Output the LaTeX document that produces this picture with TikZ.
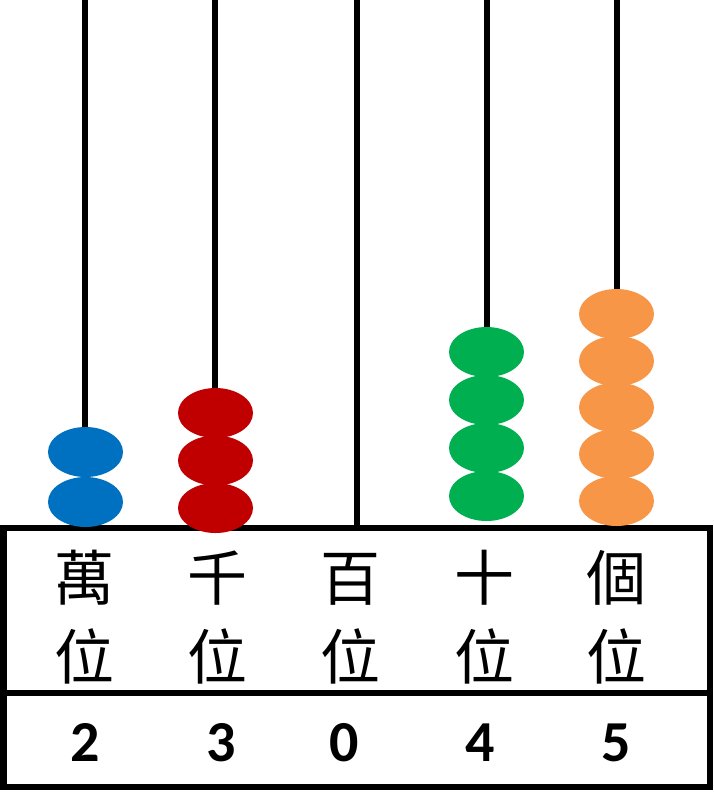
\documentclass[tikz,border=0pt]{standalone}
\usepackage{fontspec}
\usetikzlibrary{shapes.geometric}
\newfontfamily\cjk{Noto Sans CJK TC}
\newfontfamily\digitfont{Carlito}
\definecolor{beadblue}{HTML}{0070C0}
\definecolor{beadred}{HTML}{C00000}
\definecolor{beadgreen}{HTML}{00B050}
\definecolor{beadorange}{HTML}{F79646}
\begin{document}
\begin{tikzpicture}[x=1pt,y=-1pt,
  rod/.style={line width=6pt},
  frame/.style={line width=6.5pt,line join=miter},
  bead/.style={ellipse,minimum width=75pt,minimum height=50pt,inner sep=0pt,draw=none},
  cjklabel/.style={font=\cjk\fontsize{60}{60}\selectfont,anchor=base,inner sep=0pt},
  digit/.style={font=\digitfont\bfseries\fontsize{58}{58}\selectfont,anchor=base,inner sep=0pt}]
\useasboundingbox (0,0) rectangle (714,812);
% rods
\coordinate (r1t) at (85,0);   \coordinate (r1b) at (85,500);
\coordinate (r2t) at (215,0);  \coordinate (r2b) at (215,500);
\coordinate (r3t) at (357,0);  \coordinate (r3b) at (357,528);
\coordinate (r4t) at (487,0);  \coordinate (r4b) at (487,490);
\coordinate (r5t) at (617,0);  \coordinate (r5b) at (617,490);
\draw[rod] (r1t) -- (r1b);
\draw[rod] (r2t) -- (r2b);
\draw[rod] (r3t) -- (r3b);
\draw[rod] (r4t) -- (r4b);
\draw[rod] (r5t) -- (r5b);
% frame
\coordinate (tl) at (3.5,528);
\coordinate (br) at (710,787);
\coordinate (ml) at (3.5,693);
\coordinate (mr) at (710,693);
\draw[frame] (tl) rectangle (br);
\draw[frame] (ml) -- (mr);
% beads
\node[bead,fill=beadblue] (b1a) at (85.5,452) {};
\node[bead,fill=beadblue] (b1b) at (85.5,502) {};
\node[bead,fill=beadred] (b2a) at (215.5,413) {};
\node[bead,fill=beadred] (b2b) at (215.5,460.5) {};
\node[bead,fill=beadred] (b2c) at (215.5,508) {};
\node[bead,fill=beadgreen] (b4a) at (486.5,352) {};
\node[bead,fill=beadgreen] (b4b) at (486.5,400) {};
\node[bead,fill=beadgreen] (b4c) at (486.5,448) {};
\node[bead,fill=beadgreen] (b4d) at (486.5,496) {};
\node[bead,fill=beadorange] (b5a) at (616.5,314) {};
\node[bead,fill=beadorange] (b5b) at (616.5,361) {};
\node[bead,fill=beadorange] (b5c) at (616.5,407.5) {};
\node[bead,fill=beadorange] (b5d) at (616.5,454) {};
\node[bead,fill=beadorange] (b5e) at (616.5,501) {};
% labels
\node[cjklabel] (l1a) at (84,600) {萬};
\node[cjklabel] (l1b) at (84,679) {位};
\node[cjklabel] (l2a) at (217,600) {千};
\node[cjklabel] (l2b) at (217,679) {位};
\node[cjklabel] (l3a) at (350,600) {百};
\node[cjklabel] (l3b) at (350,679) {位};
\node[cjklabel] (l4a) at (484,600) {十};
\node[cjklabel] (l4b) at (484,679) {位};
\node[cjklabel] (l5a) at (616,600) {個};
\node[cjklabel] (l5b) at (616,679) {位};
% digits
\node[digit] (d1) at (85.5,761) {2};
\node[digit] (d2) at (221,761) {3};
\node[digit] (d3) at (344,761) {0};
\node[digit] (d4) at (480,761) {4};
\node[digit] (d5) at (616.5,761) {5};
\end{tikzpicture}
\end{document}
